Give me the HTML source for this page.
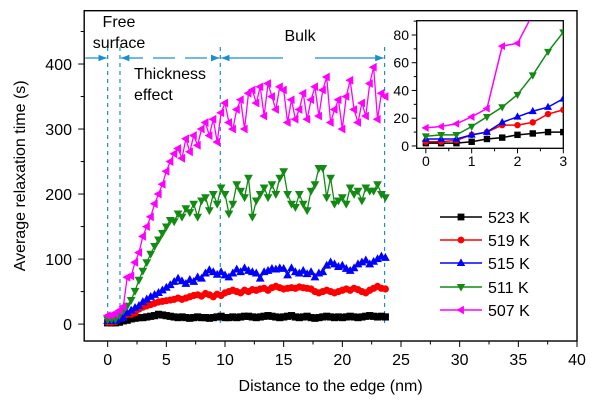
<!DOCTYPE html>
<html><head><meta charset="utf-8">
<style>
html,body{margin:0;padding:0;background:#fff;}
svg{display:block;font-family:"Liberation Sans",Arial,sans-serif;}
</style></head>
<body>
<svg id="chart" width="600" height="406" viewBox="0 0 600 406" xmlns="http://www.w3.org/2000/svg">
<defs>
<clipPath id="insetClip"><rect x="416.7" y="20.7" width="146.6" height="127.6"/></clipPath>
<marker id="arR" viewBox="0 0 10 10" refX="10" refY="5" markerWidth="7" markerHeight="7" orient="auto"><path d="M0,1 L10,5 L0,9 z" fill="#1a8fd0"/></marker>
<marker id="arL" viewBox="0 0 10 10" refX="0" refY="5" markerWidth="7" markerHeight="7" orient="auto"><path d="M10,1 L0,5 L10,9 z" fill="#1a8fd0"/></marker>
</defs>
<g id="main"></g>
<g id="inset"></g>
<g id="legend"></g>
</svg>
<script>
const xStep = 1/3;
const seriesNames = ["523 K","519 K","515 K","511 K","507 K"];
const s523 = [2,2,2,3,5,6,8,9,10,10, 11,12,13,15,14,13,12,11,10,11, 10,9,10,11,10,10,9,10,11,12, 10,10,11,10,11,12,12,11,10,11, 12,13,12,11,10,11,12,13,11,10, 11,12,10,9,10,11,12,11,10,11, 10,11,12,11,10,11,12,13,12,11, 12,11];
const s519 = [3,3,4,8,10,15,15,17,23,26, 28,30,32,34,35,36,37,38,40,38, 40,42,44,45,43,47,45,42,46,44, 48,50,52,50,48,52,50,53,52,54, 55,52,56,58,56,54,55,56,55,57, 56,55,54,50,48,50,52,50,48,50, 52,54,52,55,53,50,48,52,55,58, 55,54];
const s515 = [5,5,5,8,10,17,21,25,28,34, 38,42,45,48,52,56,60,65,70,66, 62,68,65,72,70,78,83,80,76,80, 75,72,78,84,80,86,82,80,78,70, 80,82,85,84,86,85,75,86,80,78, 82,77,80,72,78,80,90,95,92,88, 90,85,82,86,92,95,98,92,96,100, 104,102];
const s511 = [7,8,8,14,21,28,37,51,68,82, 95,108,120,130,140,150,160,158,170,165, 178,172,185,165,190,195,175,200,185,210, 200,170,185,215,205,195,225,165,190,200, 210,195,215,200,225,235,200,185,180,200, 185,175,205,215,240,240,195,225,185,190, 195,185,210,200,205,190,210,205,205,215, 200,195];
const s507 = [13,14,16,21,27,72,74,95, 110,135,150,165,185,200,215,235,250,262, 270,255,285,265,290,275,300,310,290,315, 280,325,340,310,300,330,345,300,355,360, 340,365,320,370,350,330,365,360,310,345, 315,330,355,315,345,365,320,360,380,310, 330,345,300,350,375,330,310,340,320,370, 395,315,355,350];
const xTicks = [0,5,10,15,20,25,30,35,40];
const yTicks = [0,100,200,300,400];
const insetXTicks = [0,1,2,3];
const insetYTicks = [0,20,40,60,80];
const regionBounds = [0,1.05,9.6,23.6];
const insetCount = 10;

const NS="http://www.w3.org/2000/svg";
function mk(tag,attrs,parent){const e=document.createElementNS(NS,tag);for(const k in attrs)e.setAttribute(k,attrs[k]);parent.appendChild(e);return e;}
const colors=["#000000","#ff0000","#0000ff","#138a13","#ff00ff"];
const series=[s523,s519,s515,s511,s507];
const markers=["square","circle","up","down","left"];
const FS=16;

const M={x0:84.2,x1:577,y0:341,y1:10.7,xmin:-2,xmax:40,ymin:-26,ymax:482};
const X=v=>M.x0+(v-M.xmin)/(M.xmax-M.xmin)*(M.x1-M.x0);
const Y=v=>M.y0-(v-M.ymin)/(M.ymax-M.ymin)*(M.y0-M.y1);
const I={x0:416.7,x1:563.3,y0:148.3,y1:20.7,xmin:-0.2,xmax:3,ymin:-1.7,ymax:90.3};
const IX=v=>I.x0+(v-I.xmin)/(I.xmax-I.xmin)*(I.x1-I.x0);
const IY=v=>I.y0-(v-I.ymin)/(I.ymax-I.ymin)*(I.y0-I.y1);

function marker(g,type,cx,cy,col,s){
  let e;
  if(type==="square") e=mk("rect",{x:cx-s,y:cy-s,width:s*2,height:s*2,fill:col},g);
  else if(type==="circle") e=mk("circle",{cx:cx,cy:cy,r:s,fill:col},g);
  else {
    let p;
    if(type==="up") p=[[cx,cy-s*1.1],[cx-s,cy+s*0.7],[cx+s,cy+s*0.7]];
    else if(type==="down") p=[[cx,cy+s*1.1],[cx-s,cy-s*0.7],[cx+s,cy-s*0.7]];
    else p=[[cx-s*1.1,cy],[cx+s*0.7,cy-s],[cx+s*0.7,cy+s]];
    e=mk("polygon",{points:p.map(q=>q.join(",")).join(" "),fill:col},g);
  }
  
  
}

const main=document.getElementById("main");
const fr=mk("rect",{x:M.x0,y:M.y1,width:M.x1-M.x0,height:M.y0-M.y1,fill:"none",stroke:"#000","stroke-width":1.4},main);


for(let v=-2.5;v<=40;v+=2.5){ if(v<M.xmin) continue;
  const major=xTicks.includes(v);
  const t=mk("line",{x1:X(v),x2:X(v),y1:M.y0,y2:M.y0+(major?6:3.5),stroke:"#000","stroke-width":1},main);
  
  
}
xTicks.forEach(v=>{const t=mk("text",{x:X(v),y:365,"font-size":FS,"text-anchor":"middle"},main);t.textContent=v;
  
  });
for(let v=0;v<=450;v+=50){
  const major=yTicks.includes(v);
  const t=mk("line",{x1:M.x0,x2:M.x0-(major?6:3.5),y1:Y(v),y2:Y(v),stroke:"#000","stroke-width":1},main);
  
  
}
yTicks.forEach(v=>{const t=mk("text",{x:72,y:Y(v)+6,"font-size":FS,"text-anchor":"end"},main);t.textContent=v;
  
  });
const xt=mk("text",{x:X(19),y:391,"font-size":FS,"text-anchor":"middle"},main);xt.textContent="Distance to the edge (nm)";


const yt=mk("text",{x:0,y:0,"font-size":FS,"text-anchor":"middle",transform:"translate(25,"+Y(228)+") rotate(-90)"},main);yt.textContent="Average relaxation time (s)";



regionBounds.forEach(b=>{const l=mk("line",{x1:X(b),x2:X(b),y1:47,y2:Y(0),stroke:"#1a8fd0","stroke-width":1.2,"stroke-dasharray":"4,4"},main);
  
  });
const ay=58;
const a1=mk("line",{x1:M.x0+1,x2:X(regionBounds[0])-1,y1:ay,y2:ay,stroke:"#1a8fd0","stroke-width":1.2,"marker-end":"url(#arR)"},main);

const a2=mk("line",{x1:X(regionBounds[1])+1,x2:X(regionBounds[2])-1,y1:ay,y2:ay,stroke:"#1a8fd0","stroke-width":1.2,"stroke-dasharray":"22,10","marker-start":"url(#arL)","marker-end":"url(#arR)"},main);

const a3a=mk("line",{x1:X(regionBounds[2])+1,x2:283,y1:ay,y2:ay,stroke:"#1a8fd0","stroke-width":1.2,"marker-start":"url(#arL)"},main);

const a3b=mk("line",{x1:315,x2:X(regionBounds[3])-1,y1:ay,y2:ay,stroke:"#1a8fd0","stroke-width":1.2,"marker-end":"url(#arR)"},main);

[["Free",119,27,"middle","free-label"],["surface",119,48,"middle","surface-label"],["Thickness",134,79,"start","thickness-label"],["effect",134,100,"start","effect-label"],["Bulk",300,41,"middle","bulk-label"]].forEach(d=>{
  const t=mk("text",{x:d[1],y:d[2],"font-size":FS,"text-anchor":d[3]},main);t.textContent=d[0];
  
  
});

series.forEach((s,k)=>{
  const g=mk("g",{},main);
  
  
  const pts=s.map((v,i)=>X(i*xStep).toFixed(2)+","+Y(v).toFixed(2)).join(" ");
  const pl=mk("polyline",{points:pts,fill:"none",stroke:colors[k],"stroke-width":k<2?3:1.3},g);
  
  
  s.forEach((v,i)=>marker(g,markers[k],X(i*xStep),Y(v),colors[k],k<2?3.6:4.4));
});

const ins=document.getElementById("inset");
const ib=mk("rect",{x:I.x0,y:I.y1,width:I.x1-I.x0,height:I.y0-I.y1,fill:"#fff",stroke:"#000","stroke-width":1.3},ins);

for(let v=0;v<=3.001;v+=0.5){const major=Math.abs(v-Math.round(v))<1e-6;
  const t=mk("line",{x1:IX(v),x2:IX(v),y1:I.y0,y2:I.y0+(major?5:3),stroke:"#000","stroke-width":1},ins);
  }
insetXTicks.forEach(v=>{const t=mk("text",{x:IX(v),y:166,"font-size":14,"text-anchor":"middle"},ins);t.textContent=v;
  });
for(let v=0;v<=90;v+=10){const major=insetYTicks.includes(v);
  const t=mk("line",{x1:I.x0,x2:I.x0-(major?5:3),y1:IY(v),y2:IY(v),stroke:"#000","stroke-width":1},ins);
  }
insetYTicks.forEach(v=>{const t=mk("text",{x:409,y:IY(v)+5,"font-size":14,"text-anchor":"end"},ins);t.textContent=v;
  });
const ig=mk("g",{"clip-path":"url(#insetClip)"},ins);

series.forEach((s,k)=>{
  const sub=s.slice(0,insetCount);
  const g=mk("g",{},ig);
  
  
  const pl=mk("polyline",{points:sub.map((v,i)=>IX(i*xStep)+","+IY(v)).join(" "),fill:"none",stroke:colors[k],"stroke-width":1.5},g);
  
  sub.forEach((v,i)=>marker(g,markers[k],IX(i*xStep),IY(v),colors[k],k<2?3.2:4));
});

const lg=document.getElementById("legend");
const ly=[217,240,263,287,310];
seriesNames.forEach((n,k)=>{
  const g=mk("g",{},lg);
  
  
  mk("line",{x1:440,x2:482,y1:ly[k],y2:ly[k],stroke:colors[k],"stroke-width":1.4},g);
  marker(g,markers[k],461,ly[k],colors[k],k<2?3.4:4.2);
  const t=mk("text",{x:488,y:ly[k]+6,"font-size":FS},g);t.textContent=n;
  
  
});
</script>
</body></html>
